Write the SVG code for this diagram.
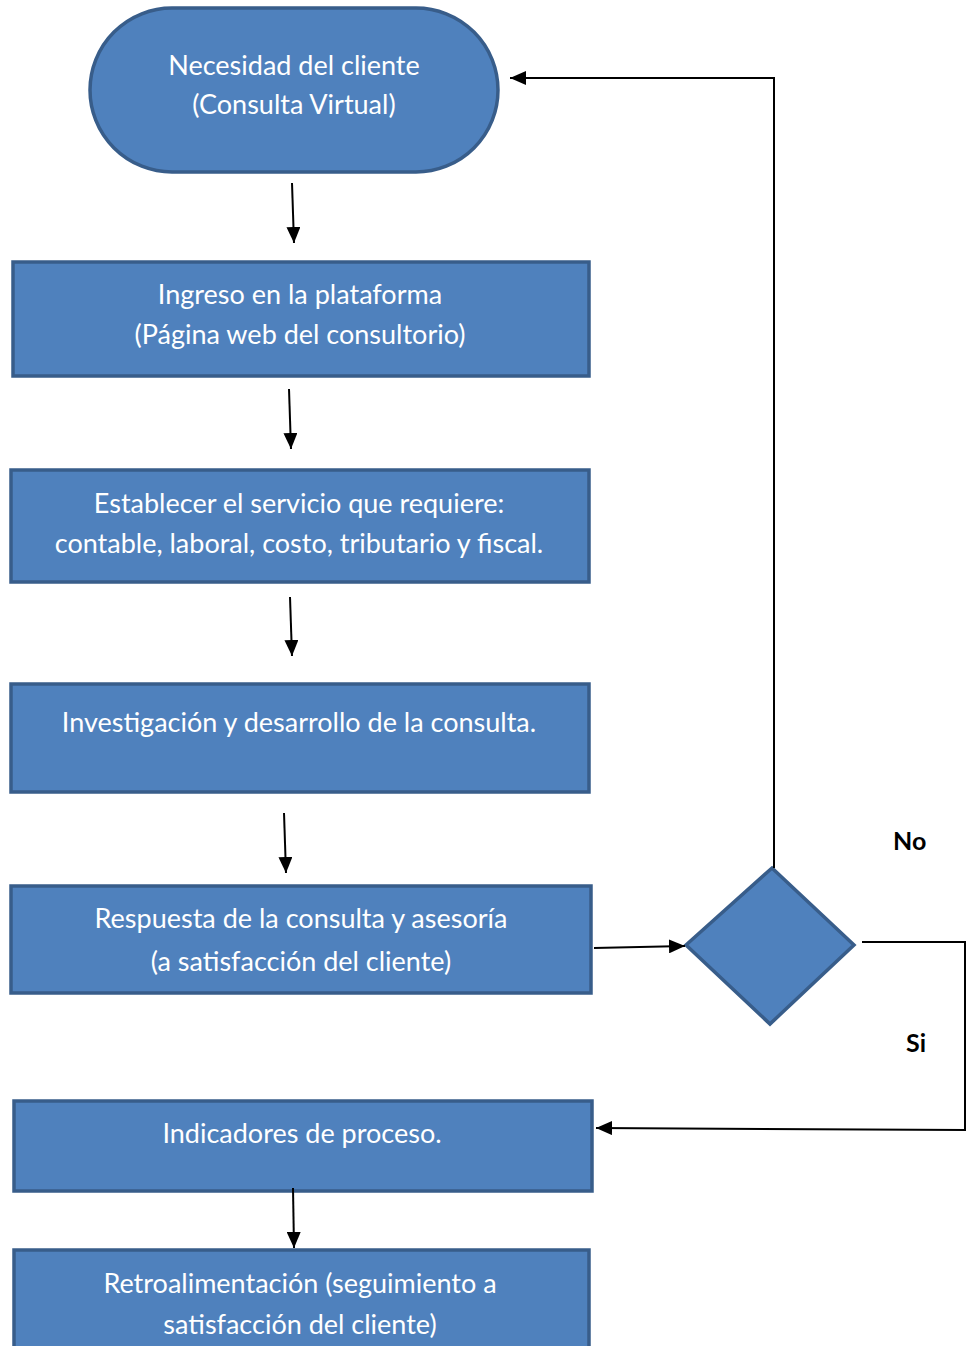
<svg xmlns="http://www.w3.org/2000/svg" width="969" height="1346" viewBox="0 0 969 1346">
<style>
.n{fill:#4f81bd;stroke:#385d8a;stroke-width:3.5}
.t{font-family:Lato,"Open Sans",sans-serif;font-size:27px;fill:#fff;text-anchor:middle}
.l{font-family:Lato,"Liberation Sans",sans-serif;font-size:25px;font-weight:bold;fill:#000}
.c{fill:none;stroke:#000;stroke-width:2}
</style>
<defs>
<marker id="a" viewBox="0 0 16 14" refX="16" refY="7" markerWidth="16" markerHeight="14" markerUnits="userSpaceOnUse" orient="auto">
<path d="M0,0L16,7L0,14z" fill="#000"/>
</marker>
</defs>
<rect width="969" height="1346" fill="#fff"/>
<g id="n1"><rect class="n" x="90" y="8" width="408" height="164" rx="82"/>
<text class="t" x="294" y="75">Necesidad del cliente</text><text class="t" x="294" y="114">(Consulta Virtual)</text></g>
<g id="n2"><rect class="n" x="13" y="262" width="576" height="114"/>
<text class="t" x="300" y="304">Ingreso en la plataforma</text><text class="t" x="300" y="344">(Página web del consultorio)</text></g>
<g id="n3"><rect class="n" x="11" y="470" width="578" height="112"/>
<text class="t" x="299" y="513">Establecer el servicio que requiere:</text><text class="t" x="299" y="553">contable, laboral, costo, tributario y fiscal.</text></g>
<g id="n4"><rect class="n" x="11" y="684" width="578" height="108"/>
<text class="t" x="299" y="732">Investigación y desarrollo de la consulta.</text></g>
<g id="n5"><rect class="n" x="11" y="886" width="580" height="107"/>
<text class="t" x="301" y="928">Respuesta de la consulta y asesoría</text><text class="t" x="301" y="971">(a satisfacción del cliente)</text></g>
<g id="n6"><polygon class="n" points="772,868 854,945 770,1024 686,945"/></g>
<g id="n7"><rect class="n" x="14" y="1101" width="578" height="90"/>
<text class="t" x="302" y="1143">Indicadores de proceso.</text></g>
<g id="n8"><rect class="n" x="14" y="1250" width="575" height="100"/>
<text class="t" x="300" y="1293">Retroalimentación (seguimiento a</text><text class="t" x="300" y="1334">satisfacción del cliente)</text></g>
<g id="connectors">
<line class="c" x1="292" y1="183" x2="294" y2="243" marker-end="url(#a)"/>
<line class="c" x1="289" y1="389" x2="291" y2="449" marker-end="url(#a)"/>
<line class="c" x1="290" y1="597" x2="292" y2="656" marker-end="url(#a)"/>
<line class="c" x1="284" y1="813" x2="286" y2="873" marker-end="url(#a)"/>
<line class="c" x1="594" y1="948" x2="685" y2="946" marker-end="url(#a)"/>
<line class="c" x1="293" y1="1188" x2="294" y2="1248" marker-end="url(#a)"/>
<polyline class="c" points="774,868 774,78 510,78" marker-end="url(#a)"/>
<polyline class="c" points="862,942 965,942 965,1130 596,1128" marker-end="url(#a)"/>
<text class="l" x="893" y="850">No</text>
<text class="l" x="906" y="1052">Si</text>
</g>
</svg>
